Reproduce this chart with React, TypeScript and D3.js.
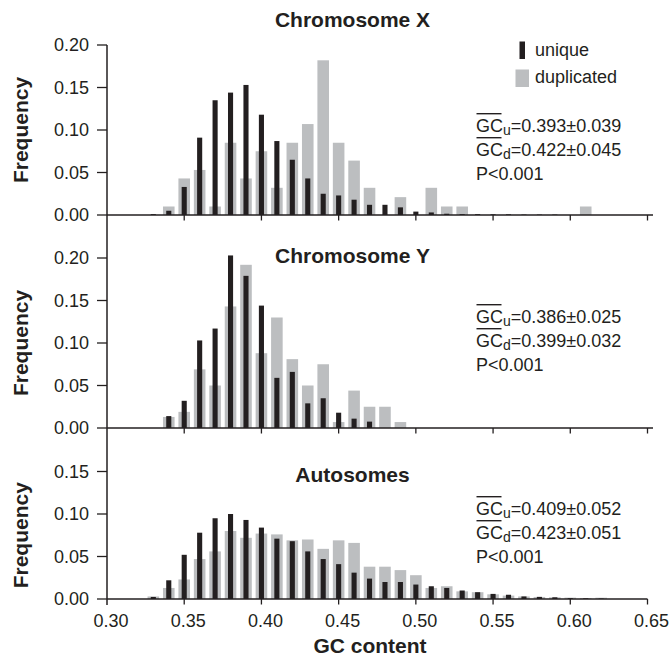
import React from "react";
import { scaleLinear } from "d3";

// bin centres (GC content)
const gcBins = [
  0.33, 0.34, 0.35, 0.36, 0.37, 0.38, 0.39, 0.4, 0.41, 0.42,
  0.43, 0.44, 0.45, 0.46, 0.47, 0.48, 0.49, 0.5, 0.51, 0.52,
  0.53, 0.54, 0.55, 0.56, 0.57, 0.58, 0.59, 0.6, 0.61, 0.62,
];

const xUnique = [
  0.001, 0.005, 0.033, 0.091, 0.135, 0.144, 0.153, 0.118, 0.087, 0.065,
  0.043, 0.025, 0.023, 0.018, 0.012, 0.012, 0.009, 0.004, 0.003, 0.0015,
  0.001, 0.001, 0.0008, 0.0008, 0.0005, 0.0005, 0.0005, 0, 0, 0,
];
const xDuplicated = [
  0, 0.01, 0.043, 0.053, 0.01, 0.085, 0.043, 0.075, 0.032, 0.085,
  0.107, 0.182, 0.085, 0.064, 0.032, 0, 0.021, 0, 0.032, 0.01,
  0.01, 0, 0, 0, 0, 0, 0, 0, 0.01, 0,
];

const yUnique = [
  0, 0.014, 0.032, 0.103, 0.117, 0.203, 0.179, 0.144, 0.059, 0.066,
  0.029, 0.035, 0.018, 0.011, 0.0075, 0, 0, 0, 0, 0,
  0, 0, 0, 0, 0, 0, 0, 0, 0, 0,
];
const yDuplicated = [
  0, 0.013, 0.019, 0.069, 0.05, 0.143, 0.192, 0.088, 0.13, 0.081,
  0.05, 0.075, 0.007, 0.044, 0.025, 0.025, 0.007, 0, 0, 0,
  0, 0, 0, 0, 0, 0, 0, 0, 0, 0,
];

const aUnique = [
  0.0024, 0.022, 0.052, 0.078, 0.095, 0.1, 0.093, 0.084, 0.071, 0.068,
  0.056, 0.047, 0.041, 0.031, 0.024, 0.02, 0.02, 0.017, 0.015, 0.013,
  0.01, 0.008, 0.006, 0.005, 0.003, 0.0025, 0.002, 0.001, 0.0008, 0.0005,
];
const aDuplicated = [
  0.003, 0.013, 0.023, 0.047, 0.056, 0.08, 0.072, 0.077, 0.076, 0.069,
  0.07, 0.059, 0.069, 0.066, 0.038, 0.038, 0.034, 0.028, 0.013, 0.015,
  0.009, 0.008, 0.0055, 0.004, 0.003, 0.0024, 0.002, 0.0016, 0.001, 0.0015,
];

const xTicks = [0.3, 0.35, 0.4, 0.45, 0.5, 0.55, 0.6, 0.65];

const panels = [
  {
    title: "Chromosome X",
    unique: xUnique,
    duplicated: xDuplicated,
    yMax: 0.2,
    yTicks: [0, 0.05, 0.1, 0.15, 0.2],
    stats: ["0.393±0.039", "0.422±0.045", "P<0.001"],
  },
  {
    title: "Chromosome Y",
    unique: yUnique,
    duplicated: yDuplicated,
    yMax: 0.25,
    yTicks: [0, 0.05, 0.1, 0.15, 0.2],
    stats: ["0.386±0.025", "0.399±0.032", "P<0.001"],
  },
  {
    title: "Autosomes",
    unique: aUnique,
    duplicated: aDuplicated,
    yMax: 0.2,
    yTicks: [0, 0.05, 0.1, 0.15],
    stats: ["0.409±0.052", "0.423±0.051", "P<0.001"],
  },
];

const INK = "#231f20";
const GREY = "#bcbec0";
const FONT = "'Liberation Sans', Arial, Helvetica, sans-serif";

const W = 671;
const H = 658;
const left = 107;
const right = 647.5;
const pxPerUnit = 850; // 0.05 -> 42.5px
const baselines = [215, 428, 599];
const titleY = [27, 263, 482];

export default function App() {
  const x = scaleLinear().domain([0.3, 0.65]).range([left, right]);
  const greyW = x(0.3075) - x(0.3);
  const blackW = x(0.3033) - x(0.3);

  return (
    <svg
      width={W}
      height={H}
      style={{ position: "absolute", left: 0, top: 0, background: "#fff" }}
      fontFamily={FONT}
    >
      {panels.map((p, pi) => {
        const base = baselines[pi];
        const y = scaleLinear()
          .domain([0, p.yMax])
          .range([base, base - p.yMax * pxPerUnit]);
        const topTick = y(p.yTicks[p.yTicks.length - 1]);
        const statY = y(0) - (pi === 0 ? 83 : pi === 1 ? 105 : 84);
        return (
          <g key={p.title}>
            {/* duplicated */}
            {gcBins.map((b, i) =>
              p.duplicated[i] > 0 ? (
                <rect
                  key={"d" + i}
                  x={x(b) - greyW / 2}
                  y={y(p.duplicated[i])}
                  width={greyW}
                  height={y(0) - y(p.duplicated[i])}
                  fill={GREY}
                />
              ) : null
            )}
            {/* unique */}
            {gcBins.map((b, i) =>
              p.unique[i] > 0 ? (
                <rect
                  key={"u" + i}
                  x={x(b) - blackW / 2}
                  y={y(p.unique[i])}
                  width={blackW}
                  height={y(0) - y(p.unique[i])}
                  fill={INK}
                />
              ) : null
            )}
            {/* baseline + ticks */}
            <line
              x1={left}
              x2={pi === 2 ? right : 653}
              y1={base}
              y2={base}
              stroke={INK}
              strokeWidth={1.5}
            />
            {xTicks.slice(1).map((t) => (
              <line
                key={t}
                x1={x(t)}
                x2={x(t)}
                y1={base}
                y2={base + 5.5}
                stroke={INK}
                strokeWidth={1.3}
              />
            ))}
            {/* y ticks */}
            {p.yTicks.map((t) => (
              <g key={t}>
                <line
                  x1={left - 10}
                  x2={left}
                  y1={y(t)}
                  y2={y(t)}
                  stroke={INK}
                  strokeWidth={1.3}
                />
                <text
                  x={89}
                  y={y(t)}
                  dy="0.35em"
                  textAnchor="end"
                  fontSize={18}
                  fill={INK}
                >
                  {t.toFixed(2)}
                </text>
              </g>
            ))}
            <text
              transform={`translate(27.5,${(topTick + base) / 2}) rotate(-90)`}
              textAnchor="middle"
              fontSize={21}
              fontWeight="bold"
              fill={INK}
            >
              Frequency
            </text>
            <text
              x={352.5}
              y={titleY[pi]}
              textAnchor="middle"
              fontSize={21}
              fontWeight="bold"
              fill={INK}
            >
              {p.title}
            </text>
            {/* stats */}
            {["u", "d"].map((sub, si) => {
              const ty = statY + si * 24;
              return (
                <g key={sub}>
                  <line
                    x1={476.5}
                    x2={501.5}
                    y1={ty - 18.3}
                    y2={ty - 18.3}
                    stroke={INK}
                    strokeWidth={1.4}
                  />
                  <text x={476} y={ty} fontSize={18} fill={INK}>
                    GC
                    <tspan fontSize={14} dy={3}>
                      {sub}
                    </tspan>
                    <tspan dy={-3}>={p.stats[si]}</tspan>
                  </text>
                </g>
              );
            })}
            <text x={476} y={statY + 48} fontSize={18} fill={INK}>
              {p.stats[2]}
            </text>
          </g>
        );
      })}

      {/* y axis line */}
      <line x1={left} x2={left} y1={45} y2={605} stroke={INK} strokeWidth={1.5} />

      {/* bottom tick labels */}
      {xTicks.map((t) => (
        <text
          key={t}
          x={x(t) + 4}
          y={627}
          textAnchor="middle"
          fontSize={18}
          fill={INK}
        >
          {t.toFixed(2)}
        </text>
      ))}
      <text
        x={370}
        y={653}
        textAnchor="middle"
        fontSize={21}
        fontWeight="bold"
        fill={INK}
      >
        GC content
      </text>

      {/* legend */}
      <rect x={519.5} y={41.5} width={5.5} height={17.5} fill={INK} />
      <text x={535} y={55.5} fontSize={18} fill={INK}>
        unique
      </text>
      <rect x={515.5} y={69.5} width={13.5} height={17.5} fill={GREY} />
      <text x={535} y={83} fontSize={18} fill={INK}>
        duplicated
      </text>
    </svg>
  );
}
